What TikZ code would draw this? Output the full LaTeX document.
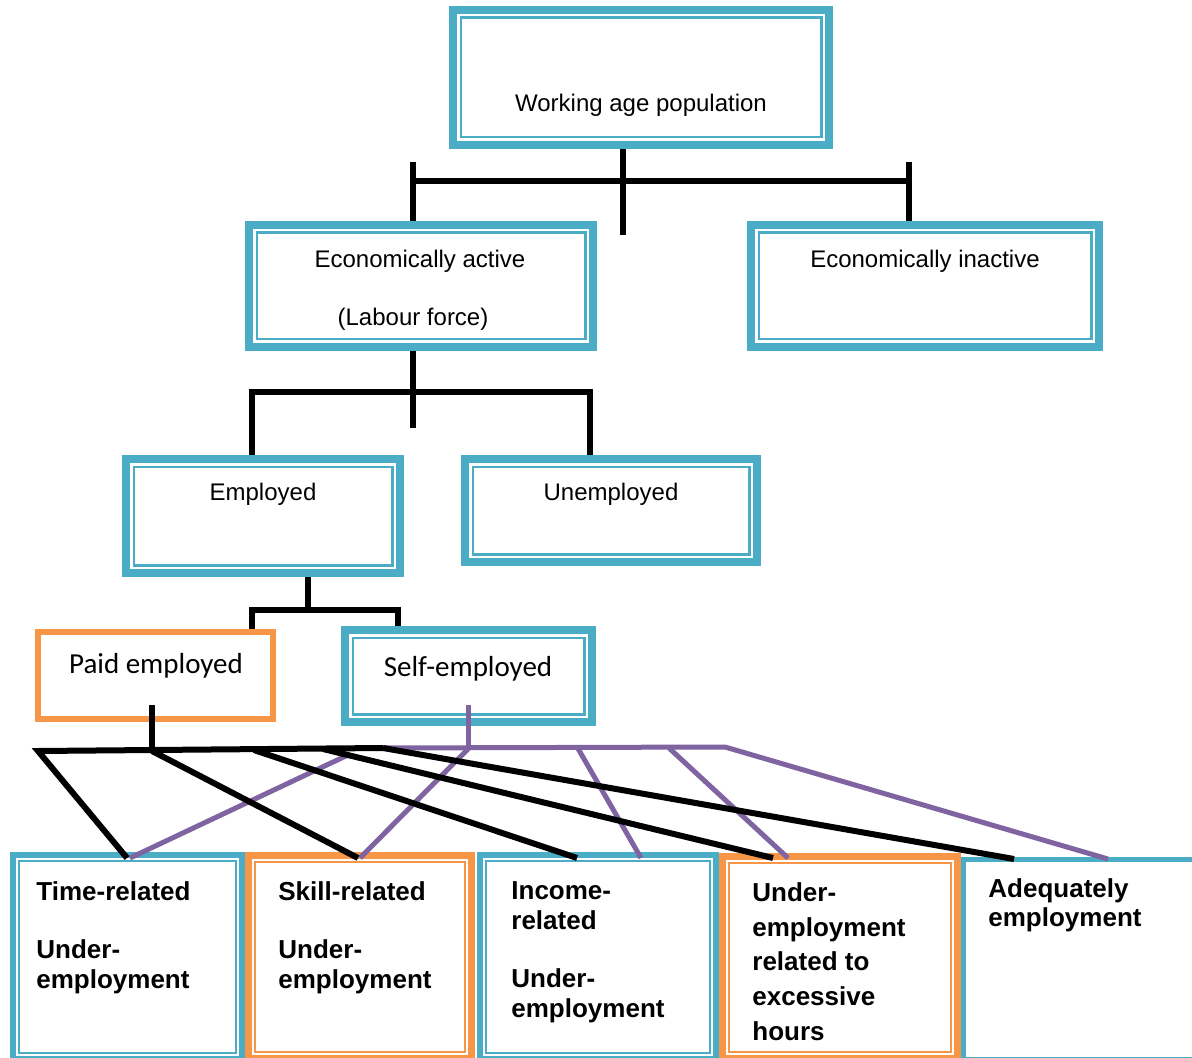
\documentclass[tikz,border=0pt]{standalone}
\usepackage{fontspec}
\setmainfont{Liberation Sans}
\newfontfamily\calfont{Carlito}
\usetikzlibrary{fit}
\definecolor{tealc}{HTML}{4BACC6}
\definecolor{orangec}{HTML}{F79646}
\definecolor{purplec}{HTML}{8064A2}
\begin{document}
\begin{tikzpicture}[x=0.5pt,y=-0.5pt,
  upbox/.style={draw=tealc, line width=4pt, inner sep=-2pt,
    path picture={\draw[tealc, line width=1.25pt]
      ([shift={(3.875pt,-3.875pt)}]path picture bounding box.north west) rectangle
      ([shift={(-3.875pt,3.875pt)}]path picture bounding box.south east);}},
  lowteal/.style={draw=tealc, line width=3pt, inner sep=-1.5pt,
    path picture={\draw[tealc, line width=1pt]
      ([shift={(3pt,-3pt)}]path picture bounding box.north west) rectangle
      ([shift={(-3pt,3pt)}]path picture bounding box.south east);}},
  loworange/.style={draw=orangec, line width=3.5pt, inner sep=-1.75pt,
    path picture={\draw[orangec, line width=1pt]
      ([shift={(3.25pt,-3.25pt)}]path picture bounding box.north west) rectangle
      ([shift={(-3.25pt,3.25pt)}]path picture bounding box.south east);}},
  orsingle/.style={draw=orangec, line width=2.9pt, inner sep=-1.45pt},
  tealsingle/.style={draw=tealc, line width=2.5pt, inner sep=-1.25pt},
  lbl/.style={inner sep=0pt, font=\fontsize{12}{14}\selectfont},
  cal/.style={inner sep=0pt, font=\calfont\fontsize{14.5}{17}\selectfont},
  btxt/.style={inner sep=0pt, anchor=north west, align=left, font=\bfseries\fontsize{13}{15}\selectfont},
  blk/.style={black, line width=3pt},
  pur/.style={purplec, line width=2.5pt}
]
\useasboundingbox (0,0) rectangle (1192,1058);
\clip (0,0) rectangle (1192,1058);
\fill[white] (0,0) rectangle (1192,1058);

% boxes
\node[upbox, fit={(449,6)(833,149)}] (wap) {};
\node[upbox, fit={(245,221)(597,351)}] (ea) {};
\node[upbox, fit={(747,221)(1103,351)}] (ei) {};
\node[upbox, fit={(122,455)(404,577)}] (emp) {};
\node[upbox, fit={(461,455)(761,566)}] (unemp) {};
\node[orsingle, fit={(35,629)(276,722)}] (paid) {};
\node[upbox, fit={(341,626)(596,726)}] (self) {};
\node[lowteal, fit={(10,852)(245,1062)}] (b1) {};
\node[loworange, fit={(245,852)(475,1062)}] (b2) {};
\node[lowteal, fit={(477,852)(719,1062)}] (b3) {};
\node[loworange, fit={(719,853)(961,1062)}] (b4) {};
\node[tealsingle, fit={(961,857)(1200,1062)}] (b5) {};

% texts
\node[lbl] (wapT) at (641,105) {Working age population};
\node[lbl] (eaT1) at (420,261) {Economically active};
\node[lbl] (eaT2) at (413,319) {(Labour force)};
\node[lbl] (eiT) at (925,261) {Economically inactive};
\node[lbl] (empT) at (263,494) {Employed};
\node[lbl] (unempT) at (611,494) {Unemployed};
\node[cal] (paidT) at (156,666) {Paid employed};
\node[cal] (selfT) at (468,669) {Self-employed};
\node[btxt] (b1T) at (36,881) {Time-related\\[14pt]Under-\\employment};
\node[btxt] (b2T) at (278,881) {Skill-related\\[14pt]Under-\\employment};
\node[btxt] (b3T) at (511,881) {Income-\\related\\[14pt]Under-\\employment};
\node[btxt, font=\bfseries\fontsize{13}{17.4}\selectfont] (b4T) at (752,882) {Under-\\employment\\related to\\excessive\\hours};
\node[btxt, font=\bfseries\fontsize{13}{14.5}\selectfont] (b5T) at (988,878) {Adequately\\employment};

% upper tree
\draw[blk] (623,0 |- wap.south) -- (623,235);
\draw[blk] (413,181) -- (909,181);
\draw[blk] (413,162) -- (413,0 |- ea.north);
\draw[blk] (909,162) -- (909,0 |- ei.north);
\draw[blk] (413,0 |- ea.south) -- (413,428);
\draw[blk] (252,0 |- emp.north) -- (252,392) -- (590,392) -- (590,0 |- unemp.north);
\draw[blk] (308,0 |- emp.south) -- (308,610);
\draw[blk] (252,0 |- paid.north) -- (252,610) -- (398,610) -- (398,0 |- self.north);

% lower connectors
\coordinate (pe) at (152,705);
\coordinate (se) at (468,705);
\coordinate (bl0) at (38,751);
\coordinate (bl1) at (152,751);
\coordinate (bl2) at (254,750);
\coordinate (bl3) at (323,749);
\coordinate (bl4) at (383,748);
\coordinate (pu0) at (350,754);
\coordinate (pu1) at (468,749);
\coordinate (pu2) at (578,748.5);
\coordinate (pu3) at (669,748);
\coordinate (pu4) at (725,747);
\coordinate (k1) at (127,858);
\coordinate (k2) at (358,858);
\coordinate (k3) at (577,858);
\coordinate (k4) at (773,858);
\coordinate (k5) at (1014,859);
\coordinate (p1) at (130,858);
\coordinate (p2) at (360,858);
\coordinate (p3) at (641,858);
\coordinate (p4) at (788,858);
\coordinate (p5) at (1108,859);

\draw[pur] (se) -- (pu1);
\draw[pur] (bl4) -- (pu4) -- (p5);
\draw[pur] (pu0) -- (p1);
\draw[pur] (pu1) -- (p2);
\draw[pur] (pu2) -- (p3);
\draw[pur] (pu3) -- (p4);

\draw[blk] (pe) -- (bl1);
\draw[blk] (k1) -- (bl0) -- (bl4);
\draw[blk] (bl1) -- (k2);
\draw[blk] (bl2) -- (k3);
\draw[blk] (bl3) -- (k4);
\draw[blk] (bl4) -- (k5);
\end{tikzpicture}
\end{document}
